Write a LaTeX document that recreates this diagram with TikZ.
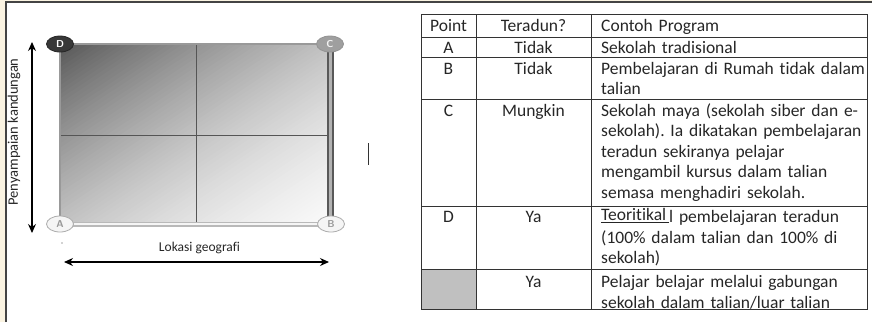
\documentclass[tikz,border=0pt]{standalone}
\usepackage{fontspec}
\setmainfont{Carlito}[Ligatures=NoCommon]
\usetikzlibrary{arrows.meta,shapes.geometric}
\definecolor{cream}{HTML}{FBF4E2}
\definecolor{framec}{HTML}{444444}
\definecolor{tabline}{HTML}{333333}
\definecolor{cellgray}{HTML}{C0C0C0}
\definecolor{edgegray}{HTML}{999999}
\definecolor{gridline}{HTML}{555555}
\tikzset{
  tbl/.style={draw=tabline, line width=1pt},
  cell/.style={inner sep=0pt, font=\fontsize{17.5}{20.6}\selectfont\frenchspacing, text=black!85},
  celltext/.style={cell, anchor=base west, text width=290pt, align=left},
  cellc/.style={cell, anchor=base},
  ell/.style={ellipse, minimum width=27pt, minimum height=16pt, inner sep=0pt, line width=0.8pt, font=\sffamily\bfseries\fontsize{10}{10}\selectfont},
  biarrow/.style={line width=1.2pt, {Stealth[length=9pt,width=8pt]}-{Stealth[length=9pt,width=8pt]}},
  axlabel/.style={inner sep=0pt, font=\fontsize{13.5}{14}\selectfont, text=black!85}
}
\begin{document}
\begin{tikzpicture}[x=1pt,y=-1pt]
\useasboundingbox (0,0) rectangle (872,322);
% page margin and frame
\fill[cream] (0,0) rectangle (872,2);
\fill[cream] (0,0) rectangle (6,322);
\draw[framec, line width=1.2pt] (6,322) -- (6,2) -- (872,2);

% ---------- diagram ----------
\begin{scope}
\clip (60,45) rectangle (330,224);
\begin{scope}[shift={(60,45)}, x=270pt, y=-179pt]
\foreach \i in {0,...,79} {
  \pgfmathsetmacro\ba{\i/40}
  \pgfmathsetmacro\bb{(\i+1.4)/40}
  \pgfmathsetmacro\sm{(\i+0.5)/40}
  \pgfmathsetmacro\kk{66-52*\sm+10*\sm*\sm}
  \fill[black!\kk] (\ba,0) -- (\bb,0) -- ({\bb-1},1) -- ({\ba-1},1) -- cycle;
}
\end{scope}
\end{scope}
\coordinate (mt) at (196,45); \coordinate (mb) at (196,224);
\coordinate (ml) at (60,135); \coordinate (mr) at (330,135);
\draw[gridline, line width=1pt] (mt) -- (mb);
\draw[gridline, line width=1pt] (ml) -- (mr);
% edges
\draw[edgegray, line width=1.5pt] (59,44) -- (330,44);
\draw[edgegray, line width=1.5pt] (60,44) -- (60,224);
\draw[draw=gray!70!black, line width=7pt] (330,46) -- (330,222);
\draw[draw=gray!60, line width=3pt] (330,46) -- (330,222);
\draw[draw=gray!55, line width=5pt] (60,224) -- (330,224);
\draw[draw=gray!8, line width=2pt] (60,224) -- (330,224);
% corner markers
\node[ell, fill=black!78, draw=black!85, text=white] (D) at (60,44) {D};
\node[ell, fill=gray!75, draw=gray!85, text=white!90!gray] (C) at (330,44) {C};
\node[ell, fill=gray!8, draw=gray!65, text=gray!80] (A) at (60,224) {A};
\node[ell, fill=gray!8, draw=gray!65, text=gray!80] (B) at (331,224) {B};
% axes
\coordinate (vt) at (32,42); \coordinate (vb) at (32,233);
\draw[biarrow] (vt) -- (vb);
\node[axlabel, rotate=90, font=\fontsize{14.5}{15}\selectfont] (vlab) at (14,132) {Penyampaian kandungan};
\coordinate (hl) at (64,262); \coordinate (hr) at (329,262);
\draw[biarrow] (hl) -- (hr);
\node[axlabel] (hlab) at (199.5,248) {Lokasi geografi};
\coordinate (dot) at (62,243);
\fill[gray!70] (dot) circle (0.8pt);
% cursor bar
\coordinate (ct) at (368,143); \coordinate (cb) at (368,165);
\draw[black!80, line width=1pt] (ct) -- (cb);

% ---------- table ----------
\fill[cellgray] (421,269) rectangle (476,309);
\draw[tbl] (421,14) rectangle (867,309);
\foreach \yy in {37,57,99,206,269} \draw[tbl] (421,\yy) -- (867,\yy);
\draw[tbl] (476,14) -- (476,309);
\draw[tbl] (591,14) -- (591,309);

\node[cellc] (h1) at (448.5,31) {Point};
\node[cellc] (h2) at (533.5,31) {Teradun?};
\node[celltext] (h3) at (601,31) {Contoh Program};

\node[cellc] (a1) at (448.5,53) {A};
\node[cellc] (a2) at (533.5,53) {Tidak};
\node[celltext] (a3) at (601,53) {Sekolah tradisional};

\node[cellc] (b1) at (448.5,74) {B};
\node[cellc] (b2) at (533.5,74) {Tidak};
\node[celltext] (b3) at (601,74) {Pembelajaran di Rumah tidak dalam\\talian};

\node[cellc] (c1) at (448.5,116) {C};
\node[cellc] (c2) at (533.5,116) {Mungkin};
\node[celltext] (c3) at (601,116) {Sekolah maya (sekolah siber dan e-\\sekolah). Ia dikatakan pembelajaran\\teradun sekiranya pelajar\\mengambil kursus dalam talian\\semasa menghadiri sekolah.};

\node[cellc] (d1) at (448.5,222.5) {D};
\node[cellc] (d2) at (533.5,222.5) {Ya};
\node[celltext] (d3) at (601,222.5) {\raisebox{2pt}{\underline{Teoritikal\kern3pt}}l pembelajaran teradun\\(100\% dalam talian dan 100\% di\\sekolah)};

\node[cellc] (e2) at (533.5,287.5) {Ya};
\node[celltext] (e3) at (601,287.5) {Pelajar belajar melalui gabungan\\sekolah dalam talian/luar talian};
\end{tikzpicture}
\end{document}
